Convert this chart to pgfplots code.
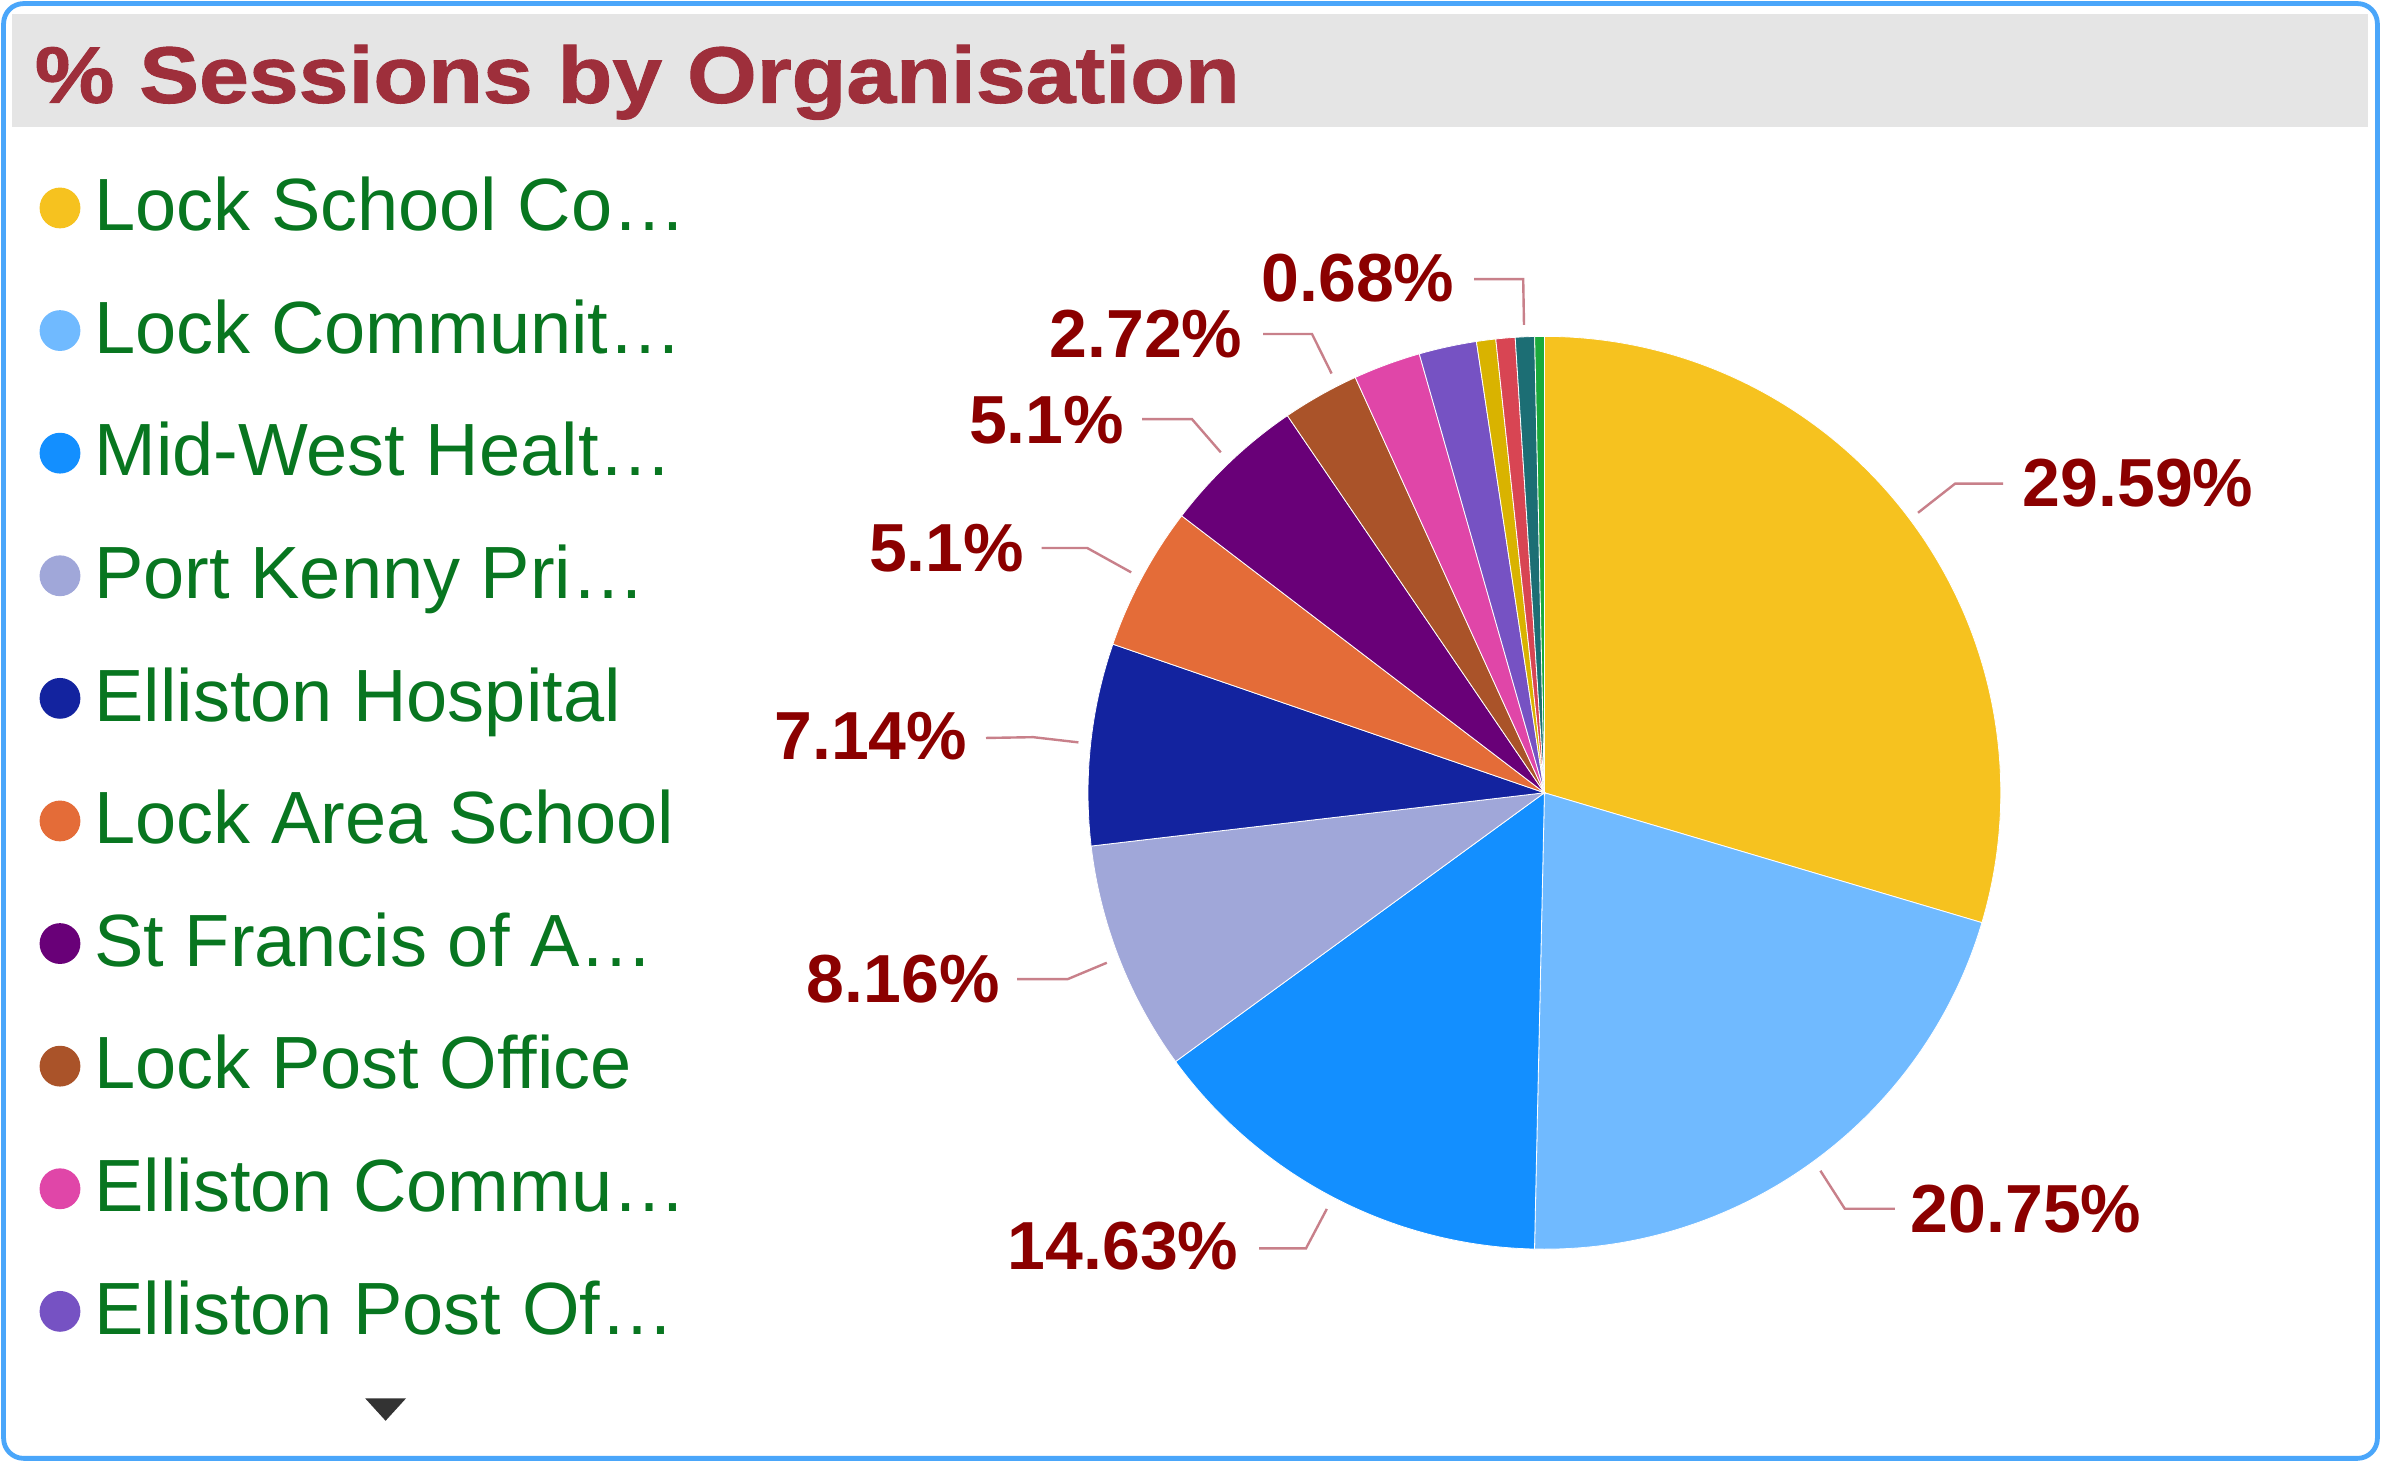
\documentclass[border=0pt]{standalone}
\usepackage{pgfplots}
\pgfplotsset{compat=1.18}
\usepackage{pgfplotstable}
\usepackage{fontspec}
\setmainfont{Liberation Sans}
\newfontfamily\titlefont{Liberation Sans}[FakeStretch=1.12, FakeBold=1.2]

\definecolor{c1}{HTML}{F6C21F}
\definecolor{c2}{HTML}{70BAFF}
\definecolor{c3}{HTML}{138FFF}
\definecolor{c4}{HTML}{A0A7D9}
\definecolor{c5}{HTML}{13239F}
\definecolor{c6}{HTML}{E46C38}
\definecolor{c7}{HTML}{690078}
\definecolor{c8}{HTML}{AA5329}
\definecolor{c9}{HTML}{E046A8}
\definecolor{c10}{HTML}{7652C3}
\definecolor{c11}{HTML}{D9B300}
\definecolor{c12}{HTML}{D84553}
\definecolor{c13}{HTML}{1C6E74}
\definecolor{c14}{HTML}{1BAA3B}
\definecolor{titlecol}{HTML}{9E2F3B}
\definecolor{labcol}{HTML}{8B0000}
\definecolor{leadcol}{HTML}{C8808A}
\definecolor{legcol}{HTML}{087620}
\definecolor{framecol}{HTML}{4AA6FA}
\definecolor{barcol}{HTML}{E5E5E5}

\pgfplotstableread{
pct col
29.59 c1
20.75 c2
14.63 c3
8.16 c4
7.14 c5
5.1 c6
5.1 c7
2.72 c8
2.38 c9
2.04 c10
0.68 c11
0.68 c12
0.68 c13
0.34 c14
}\piedata

\begin{document}
\begin{tikzpicture}
\begin{axis}[x=1pt, y=1pt, xmin=0, xmax=595.25, ymin=0, ymax=365.5,
  hide axis, clip=false]
% background frame and title bar
\fill[white] (axis cs:0,0) rectangle (axis cs:595.25,365.5);
\fill[barcol] (axis cs:2.9,333.75) rectangle (axis cs:592,362);
\draw[framecol, line width=1.2pt, rounded corners=5pt] (axis cs:0.9,0.9) rectangle (axis cs:594.35,364.6);
\node[anchor=base west, inner sep=0, text=titlecol, font=\titlefont\bfseries\fontsize{20}{24}\selectfont] at (axis cs:8.5,339.8) {\% Sessions by Organisation};

% pie slices
\def\cum{0}
\pgfplotsforeachungrouped \i in {0,...,13}{%
  \pgfplotstablegetelem{\i}{pct}\of\piedata \let\pval=\pgfplotsretval
  \pgfplotstablegetelem{\i}{col}\of\piedata \let\slicecol=\pgfplotsretval
  \pgfmathsetmacro\angA{90-3.60036*\cum}%
  \pgfmathsetmacro\cum{\cum+\pval}%
  \pgfmathsetmacro\angB{90-3.60036*\cum}%
  \edef\temp{\noexpand\fill[\slicecol, draw=white, line width=0.2pt] (axis cs:386.1,167.3) -- +(\angA:114.1pt) arc[start angle=\angA, end angle=\angB, radius=114.1pt] -- cycle;}%
  \temp
}

% leader lines
\tikzset{leader/.style={leadcol, line width=0.6pt}, lab/.style={inner sep=0, text=labcol, font=\bfseries\fontsize{17}{20}\selectfont}}
\draw[leader] (axis cs:479.5,237.3) -- (axis cs:488.8,244.6) -- (axis cs:500.8,244.6);
\node[lab, anchor=west] at (axis cs:505.5,244.8) {29.59\%};
\draw[leader] (axis cs:455.1,72.8) -- (axis cs:461.2,63.3) -- (axis cs:473.7,63.3);
\node[lab, anchor=west] at (axis cs:477.5,63.3) {20.75\%};
\draw[leader] (axis cs:331.7,63.25) -- (axis cs:326.5,53.4) -- (axis cs:314.8,53.4);
\node[lab, anchor=east] at (axis cs:309.8,54) {14.63\%};
\draw[leader] (axis cs:276.7,124.8) -- (axis cs:266.9,120.7) -- (axis cs:254.3,120.7);
\node[lab, anchor=east] at (axis cs:250.1,120.7) {8.16\%};
\draw[leader] (axis cs:269.6,179.9) -- (axis cs:258.3,181.2) -- (axis cs:246.5,181.0);
\node[lab, anchor=east] at (axis cs:242,181.5) {7.14\%};
\draw[leader] (axis cs:282.8,222.4) -- (axis cs:271.8,228.5) -- (axis cs:260.4,228.5);
\node[lab, anchor=east] at (axis cs:256.2,228.5) {5.1\%};
\draw[leader] (axis cs:305.2,252.4) -- (axis cs:298,260.7) -- (axis cs:285.5,260.7);
\node[lab, anchor=east] at (axis cs:281.2,260.5) {5.1\%};
\draw[leader] (axis cs:332.9,272.1) -- (axis cs:328,282) -- (axis cs:315.8,282);
\node[lab, anchor=east] at (axis cs:310.8,282) {2.72\%};
\draw[leader] (axis cs:381,284.25) -- (axis cs:380.8,295.7) -- (axis cs:368.5,295.7);
\node[lab, anchor=east] at (axis cs:363.8,296) {0.68\%};

% legend markers
\addplot[only marks, mark=*, mark size=4.9pt, c1] coordinates {(15,313.5)};
\addplot[only marks, mark=*, mark size=4.9pt, c2] coordinates {(15,282.85)};
\addplot[only marks, mark=*, mark size=4.9pt, c3] coordinates {(15,252.2)};
\addplot[only marks, mark=*, mark size=4.9pt, c4] coordinates {(15,221.55)};
\addplot[only marks, mark=*, mark size=4.9pt, c5] coordinates {(15,190.9)};
\addplot[only marks, mark=*, mark size=4.9pt, c6] coordinates {(15,160.25)};
\addplot[only marks, mark=*, mark size=4.9pt, c7] coordinates {(15,129.6)};
\addplot[only marks, mark=*, mark size=4.9pt, c8] coordinates {(15,98.95)};
\addplot[only marks, mark=*, mark size=4.9pt, c9] coordinates {(15,68.3)};
\addplot[only marks, mark=*, mark size=4.9pt, c10] coordinates {(15,37.65)};

\tikzset{legtxt/.style={anchor=base west, inner sep=0, text=legcol, font=\fontsize{18.5}{22}\selectfont}}
\node[legtxt] at (axis cs:23.4,307.8) {Lock School Co…};
\node[legtxt] at (axis cs:23.4,277.15) {Lock Communit…};
\node[legtxt] at (axis cs:23.4,246.5) {Mid-West Healt…};
\node[legtxt] at (axis cs:23.4,215.85) {Port Kenny Pri…};
\node[legtxt] at (axis cs:23.4,185.2) {Elliston Hospital};
\node[legtxt] at (axis cs:23.4,154.55) {Lock Area School};
\node[legtxt] at (axis cs:23.4,123.9) {St Francis of A…};
\node[legtxt] at (axis cs:23.4,93.25) {Lock Post Office};
\node[legtxt] at (axis cs:23.4,62.6) {Elliston Commu…};
\node[legtxt] at (axis cs:23.4,31.95) {Elliston Post Of…};

% scroll arrow
\fill[black!80] (axis cs:91.3,15.9) -- (axis cs:101.5,15.9) -- (axis cs:96.4,10.3) -- cycle;
\end{axis}
\end{tikzpicture}
\end{document}
